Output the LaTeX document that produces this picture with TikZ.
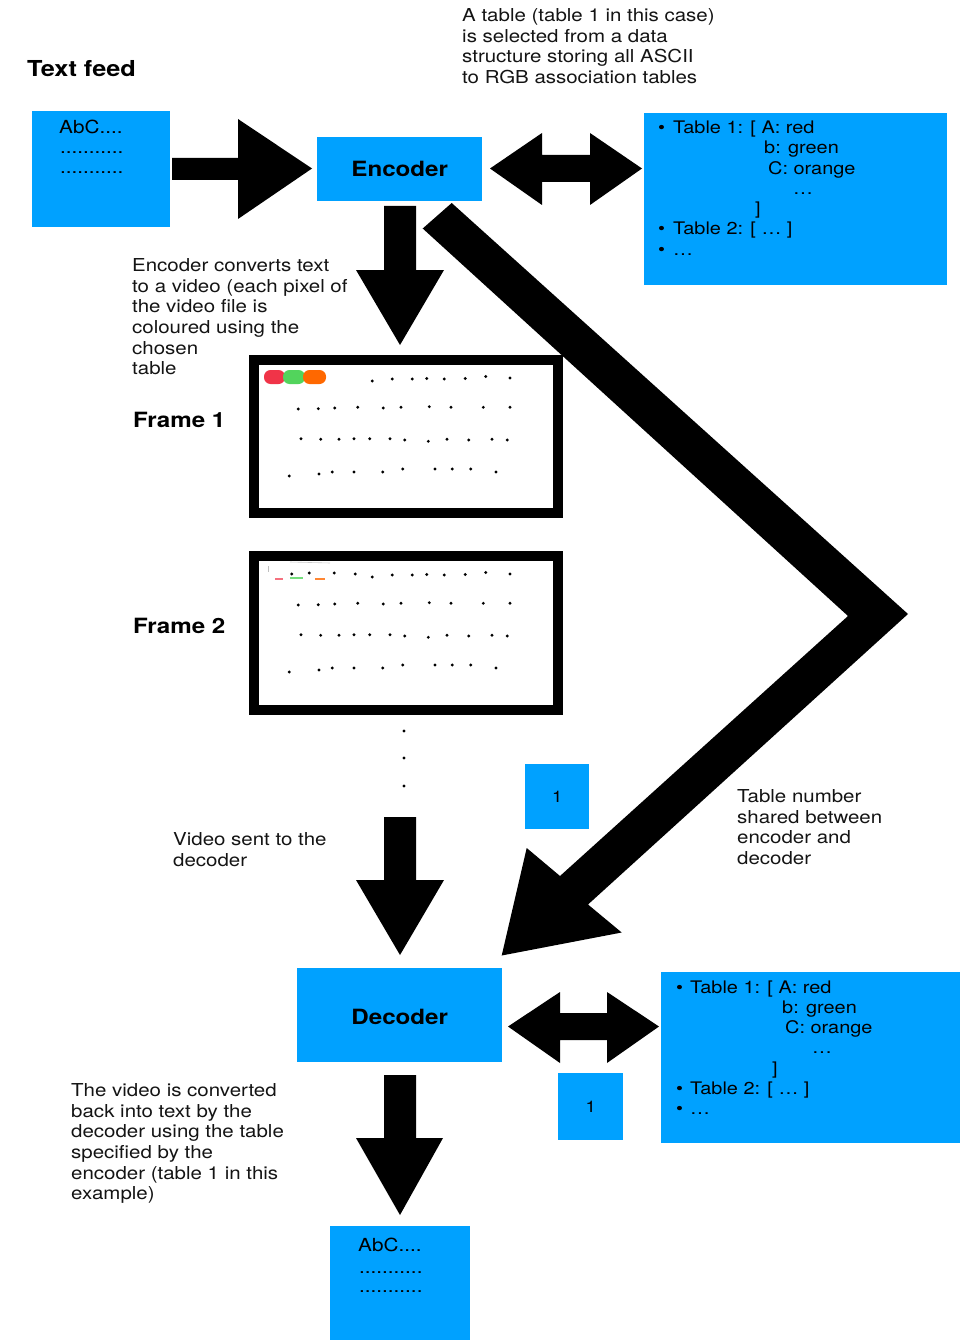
\documentclass[tikz,border=0pt]{standalone}
\usepackage{fontspec}
\setmainfont{TeX Gyre Heros}[FakeStretch=1.15]
\usetikzlibrary{calc}
\definecolor{boxblue}{RGB}{0,161,255}
\definecolor{txt}{RGB}{20,20,20}
\definecolor{blobred}{RGB}{240,52,72}
\definecolor{blobgreen}{RGB}{82,212,92}
\definecolor{bloborange}{RGB}{255,104,0}
\begin{document}
\begin{tikzpicture}[x=1pt,y=-1pt,
  bluebox/.style={fill=boxblue, draw=none, inner sep=0pt, anchor=north west},
  framebox/.style={draw=black, line width=10pt, fill=white, inner sep=0pt},
  blockarrow/.style={fill=black, draw=none},
  para/.style={anchor=north west, align=left, inner sep=0pt, text=txt, font=\fontsize{17.8}{20.6}\selectfont},
  tline/.style={anchor=base west, inner sep=0pt, text=black, font=\fontsize{17.3}{20}\selectfont},
  boldlabel/.style={font=\bfseries\fontsize{21}{24}\selectfont, inner sep=0pt, text=black},
  pix/.style={fill=black, circle, inner sep=0pt, minimum size=3.2pt},
  blob/.style={rounded corners=6.5pt, draw=none},
  numtext/.style={inner sep=0pt, text=black, font=\fontsize{16}{16}\selectfont},
]
\path[use as bounding box, fill=white] (0,0) rectangle (960,1340);

% ---------- top texts
\node[boldlabel, anchor=west, font=\bfseries\fontsize{22}{24}\selectfont] (feedlabel) at (27,69) {Text feed};
\node[para] (desc) at (462,8.5) {A table (table 1 in this case)\\is selected from a data\\structure storing all ASCII\\to RGB association tables};

% ---------- text feed box
\node[bluebox, minimum width=138pt, minimum height=116pt] (feed) at (32,111) {};
\node[tline, font=\fontsize{18}{20}\selectfont] (feedt1) at (59,134) {AbC....};
\node[tline, font=\fontsize{18}{20}\selectfont] (feedt2) at (60,154) {...........};
\node[tline, font=\fontsize{18}{20}\selectfont] (feedt3) at (60,174) {...........};

% ---------- encoder
\node[bluebox, minimum width=165pt, minimum height=64pt] (enc) at (317,137) {};
\node[boldlabel] (enct) at (enc.center) {Encoder};

% ---------- table box 1
\node[bluebox, minimum width=303pt, minimum height=172pt] (tab1) at (644,113) {};
\node[tline] (t1b1) at (658,134) {•};
\node[tline] (t1l1) at (673,134) {Table 1: [ A: red};
\node[tline] (t1l2) at (764,154) {b: green};
\node[tline] (t1l3) at (768,175) {C: orange};
\node[tline] (t1l4) at (793,195) {…};
\node[tline] (t1l5) at (755,215) {]};
\node[tline] (t1b2) at (658,235) {•};
\node[tline] (t1l6) at (673,235) {Table 2: [ … ]};
\node[tline] (t1b3) at (658,255) {•};
\node[tline] (t1l7) at (673,255) {…};

% ---------- arrows at top
\fill[blockarrow] (172,158) -- (238,158) -- (238,119) -- (312,168.5) -- (238,219) -- (238,180) -- (172,180) -- cycle;
\fill[blockarrow] (490,168.5) -- (542,133) -- (542,155) -- (590,155) -- (590,133) -- (642,168.5) -- (590,205) -- (590,182) -- (542,182) -- (542,205) -- cycle;
\fill[blockarrow] (384,206) -- (416,206) -- (416,270) -- (444,270) -- (400,345) -- (356,270) -- (384,270) -- cycle;

% ---------- bent arrow encoder -> decoder
\fill[blockarrow] (451.7,203) -- (908,614) -- (588,904.5) -- (621.7,932.5) -- (501.7,955.5) -- (526.7,848) -- (560,876) -- (848,616) -- (422.7,228.5) -- cycle;

% ---------- encoder description
\node[para] (encdesc) at (132,258.5) {Encoder converts text\\to a video (each pixel of\\the video file is\\coloured using the\\chosen\\table};

% ---------- frames
\node[framebox, minimum width=304pt, minimum height=153pt] (frame1) at (405.5,436.5) {};
\node[framebox, minimum width=304pt, minimum height=154pt] (frame2) at (405.5,633) {};
\node[boldlabel, anchor=west] (f1label) at (133,420) {Frame 1};
\node[boldlabel, anchor=west] (f2label) at (133,626) {Frame 2};

% colour blobs in frame 1
\fill[blob, blobred] (264,370) rectangle (285,384);
\fill[blob, blobgreen] (283,370) rectangle (305,384);
\fill[blob, bloborange] (303,370) rectangle (326,384);
% faint marks in frame 2
\draw[blobred!70, line width=1.3pt] (275,579) -- (283,579);
\draw[blobgreen!80, line width=1.3pt] (290,578) -- (303,578);
\draw[bloborange!80, line width=1.3pt] (315,579) -- (325,579);
\draw[black!25, line width=0.6pt] (268,566) -- (268,572);
\draw[black!20, line width=0.6pt] (290,562) -- (330,563);

% dots in both frames
\foreach \ft in {355,551} {
  \foreach \dx/\dy in {372.3/26,392.3/24,412.3/24,426.7/23.5,444.3/24,465.3/23.5,485.7/21.5,510/23,
      298.3/54,318.3/53.7,334.7/53,357.7/52.3,383.3/53,401/52.3,429.3/51.7,451/52.3,483.3/52.3,510/52.3,
      301/83.7,320.7/84.3,339/84.3,354/83.7,369.7/83.7,390/83.7,404.7/85,428.3/86.3,447/84.3,468.7/85,492/84.3,507.3/85,
      289.3/121,319/119,332.3/117,354/117,382.7/117,402.7/114,435/114,452.3/114,470.7/114,496/117}
    \node[pix] at (\dx,\ft+\dy) {};
}
\foreach \dx/\dy in {291.7/23,309.3/22,334.3/22,355.3/23}
  \node[pix] at (\dx,551+\dy) {};

% vertical dots
\node[pix] (vd1) at (404,731) {};
\node[pix] (vd2) at (404,758) {};
\node[pix] (vd3) at (404,786) {};

% ---------- video sent
\node[para] (videosent) at (173,832.5) {Video sent to the\\decoder};
\fill[blockarrow] (384,817) -- (416,817) -- (416,880) -- (444,880) -- (400,955) -- (356,880) -- (384,880) -- cycle;

% ---------- table number
\node[bluebox, minimum width=64pt, minimum height=65pt] (one1) at (525,764) {};
\node[numtext] (one1t) at (one1.center) {1};
\node[para] (tabnum) at (737,789.5) {Table number\\shared between\\encoder and\\decoder};

% ---------- decoder
\node[bluebox, minimum width=205pt, minimum height=94pt] (dec) at (297,968) {};
\node[boldlabel] (dect) at ($(dec.center)+(0,2)$) {Decoder};
\fill[blockarrow] (508,1026.5) -- (560,992) -- (560,1013) -- (607,1013) -- (607,992) -- (659,1026.5) -- (607,1063) -- (607,1040) -- (560,1040) -- (560,1063) -- cycle;

\node[bluebox, minimum width=65pt, minimum height=67pt] (one2) at (558,1073) {};
\node[numtext] (one2t) at (one2.center) {1};

% ---------- table box 2
\node[bluebox, minimum width=302pt, minimum height=171pt] (tab2) at (661,972) {};
\node[tline] (t2b1) at (676,993) {•};
\node[tline] (t2l1) at (690,993) {Table 1: [ A: red};
\node[tline] (t2l2) at (782,1013) {b: green};
\node[tline] (t2l3) at (785,1033) {C: orange};
\node[tline] (t2l4) at (812,1053) {…};
\node[tline] (t2l5) at (772,1074) {]};
\node[tline] (t2b2) at (676,1094) {•};
\node[tline] (t2l6) at (690,1094) {Table 2: [ … ]};
\node[tline] (t2b3) at (676,1114) {•};
\node[tline] (t2l7) at (690,1114) {…};

% ---------- bottom
\node[para] (convdesc) at (71,1083.5) {The video is converted\\back into text by the\\decoder using the table\\specified by the\\encoder (table 1 in this\\example)};
\fill[blockarrow] (384,1075) -- (416,1075) -- (416,1138) -- (443,1138) -- (400,1215) -- (356,1138) -- (384,1138) -- cycle;

\node[bluebox, minimum width=140pt, minimum height=116pt] (out) at (330,1226) {};
\node[tline, font=\fontsize{18}{20}\selectfont] (outt1) at (358,1251) {AbC....};
\node[tline, font=\fontsize{18}{20}\selectfont] (outt2) at (359,1273) {...........};
\node[tline, font=\fontsize{18}{20}\selectfont] (outt3) at (359,1292) {...........};
\end{tikzpicture}
\end{document}
